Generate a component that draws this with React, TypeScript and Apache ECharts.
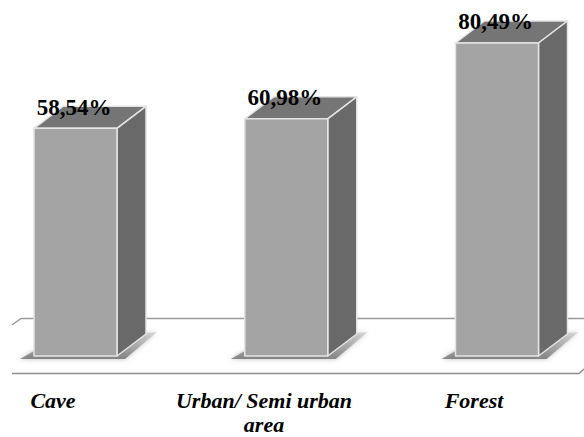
import React, { useEffect, useRef } from "react";
import * as echarts from "echarts";

const categories = ["Cave", "Urban/ Semi urban\narea", "Forest"];
const values = [58.54, 60.98, 80.49];

const FRONT = "#a4a4a4";
const TOP = "#757575";
const SIDE = "#696969";
const EDGE = "#e4e4e4";
const DX = 29;
const DY = -22;

const renderBar = (params: any, api: any) => {
  const idx = api.value(0);
  const value = api.value(1);
  const [cx, yTop] = api.coord([idx, value]);
  const [, yBase] = api.coord([idx, 0]);
  const half = 41.5;
  const x0 = cx - half;
  const x1 = cx + half;
  const edge = { stroke: EDGE, lineWidth: 1.5, lineJoin: "round" };
  return {
    type: "group",
    children: [
      {
        type: "polygon",
        silent: true,
        shape: {
          points: [
            [x0 - 14, yBase + 3],
            [x0, yBase - 5],
            [x1 + DX, yBase + DY - 1],
            [x1 + DX + 11, yBase + DY - 2],
            [x1 + 8, yBase + 3],
          ],
        },
        style: {
          fill: {
            type: "linear",
            x: 0,
            y: 0,
            x2: 0,
            y2: 1,
            colorStops: [
              { offset: 0, color: "rgba(190,190,190,0.5)" },
              { offset: 1, color: "rgba(110,110,110,0.8)" },
            ],
          },
          shadowBlur: 5,
          shadowColor: "rgba(150,150,150,0.8)",
        },
      },
      {
        type: "polygon",
        shape: { points: [[x0, yTop], [x0 + DX, yTop + DY], [x1 + DX, yTop + DY], [x1, yTop]] },
        style: { fill: TOP, ...edge },
      },
      {
        type: "polygon",
        shape: { points: [[x1, yTop], [x1 + DX, yTop + DY], [x1 + DX, yBase + DY], [x1, yBase]] },
        style: { fill: SIDE, ...edge },
      },
      {
        type: "rect",
        shape: { x: x0, y: yTop, width: x1 - x0, height: yBase - yTop },
        style: { fill: FRONT, ...edge },
      },
      {
        type: "text",
        style: {
          x: cx - 1.5,
          y: yTop - 21,
          text: value.toFixed(2).replace(".", ",") + "%",
          fill: "#000",
          font: 'bold 23px "Liberation Serif"',
          align: "center",
          verticalAlign: "middle",
        },
      },
    ],
  };
};

const labelX = [53, 264, 474];

export default function App() {
  const ref = useRef<HTMLDivElement>(null);
  useEffect(() => {
    document.body.style.margin = "0";
    const chart = echarts.init(ref.current!, undefined, { renderer: "svg" });
    chart.setOption({
      animation: false,
      backgroundColor: "#fff",
      grid: { left: 75.5, right: 87, top: 6, bottom: 81 },
      xAxis: {
        type: "category",
        data: categories,
        boundaryGap: false,
        axisLine: { show: false },
        axisTick: { show: false },
        axisLabel: { show: false },
      },
      yAxis: { type: "value", min: 0, max: 90, show: false, splitLine: { show: false } },
      graphic: [
        {
          type: "polyline",
          z: 0,
          silent: true,
          shape: { points: [[12, 325], [21, 318.5], [584, 318.5]] },
          style: { fill: "none", stroke: "#9a9a9a", lineWidth: 1.5 },
        },
        {
          type: "polyline",
          z: 0,
          silent: true,
          shape: { points: [[12, 373.5], [579, 373.5], [584, 369]] },
          style: { fill: "none", stroke: "#8f8f8f", lineWidth: 1.5 },
        },
        ...categories.map((c, i) => ({
          type: "text",
          z: 5,
          x: labelX[i],
          y: 388,
          style: {
            text: c,
            fill: "#000",
            font: 'italic bold 22px "Liberation Serif"',
            align: "center",
            verticalAlign: "top",
            lineHeight: 24,
          },
        })),
      ],
      series: [
        {
          type: "custom",
          z: 2,
          clip: false,
          renderItem: renderBar,
          encode: { x: 0, y: 1 },
          data: values.map((v, i) => [i, v]),
        },
      ],
    });
    return () => chart.dispose();
  }, []);
  return <div ref={ref} style={{ width: 584, height: 437 }} />;
}
